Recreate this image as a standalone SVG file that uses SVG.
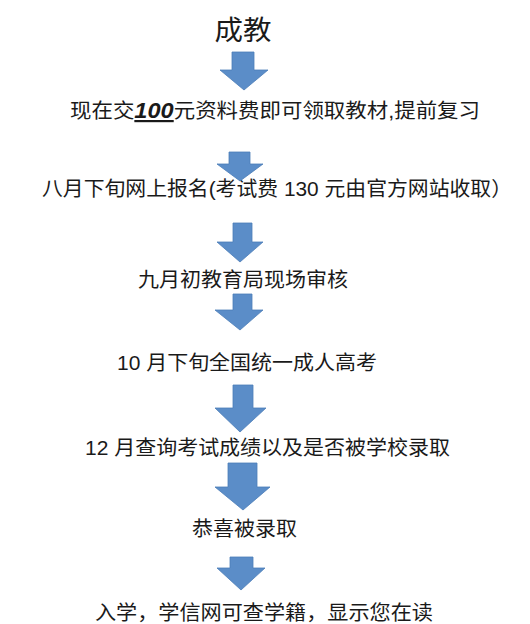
<svg xmlns="http://www.w3.org/2000/svg" width="530" height="624" viewBox="0 0 530 624">
<defs>
<style>
.t{font-family:"Liberation Sans","Noto Sans CJK SC",sans-serif;font-size:20px;fill:#1a1a1a;}
.a{fill:#5b8dc8;stroke:#4d7db8;stroke-width:0.8;}
</style>
</defs>
<rect width="530" height="624" fill="#ffffff"/>
<g id="n1"><text class="t" x="243" y="40" text-anchor="middle" style="font-size:27px" textLength="57" lengthAdjust="spacingAndGlyphs">成教</text></g>
<g id="n2"><text class="t" x="70" y="118" textLength="410" lengthAdjust="spacingAndGlyphs">现在交<tspan font-weight="bold" font-style="italic" text-decoration="underline" font-size="22">100</tspan>元资料费即可领取教材,提前复习</text></g>
<g id="n3"><text class="t" x="42" y="196" textLength="470" lengthAdjust="spacingAndGlyphs">八月下旬网上报名(考试费 130 元由官方网站收取）</text></g>
<g id="n4"><text class="t" x="138" y="287" textLength="210" lengthAdjust="spacingAndGlyphs">九月初教育局现场审核</text></g>
<g id="n5"><text class="t" x="117" y="370" textLength="260" lengthAdjust="spacingAndGlyphs">10 月下旬全国统一成人高考</text></g>
<g id="n6"><text class="t" x="85" y="455" textLength="365" lengthAdjust="spacingAndGlyphs">12 月查询考试成绩以及是否被学校录取</text></g>
<g id="n7"><text class="t" x="192" y="536" textLength="105" lengthAdjust="spacingAndGlyphs">恭喜被录取</text></g>
<g id="n8"><text class="t" x="95" y="620" textLength="338" lengthAdjust="spacingAndGlyphs">入学，学信网可查学籍，显示您在读</text></g>
<g id="connectors">
<path class="a" d="M232,52 H254 V70 H268 L244,90 L220,70 H232 Z"/>
<path class="a" d="M229,152 H250 V164 H263 L240,181 L217,164 H229 Z"/>
<path class="a" d="M233,223 H252 V242 H263 L240,262 L217,242 H233 Z"/>
<path class="a" d="M233,294 H252 V310 H263 L240,330 L215,310 H233 Z"/>
<path class="a" d="M233,385 H253 V408 H266 L240,432 L215,408 H233 Z"/>
<path class="a" d="M228,463 H257 V487 H270 L243,510 L215,487 H228 Z"/>
<path class="a" d="M230,557 H253 V568 H265 L241,590 L217,568 H230 Z"/>
</g>
</svg>
